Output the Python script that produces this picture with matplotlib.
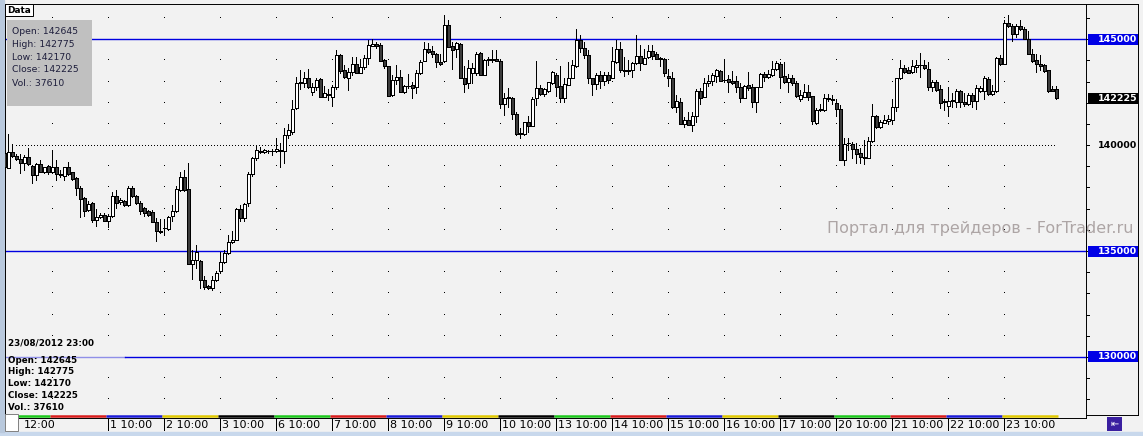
import matplotlib
matplotlib.use("Agg")
import matplotlib.pyplot as plt
from matplotlib.patches import Rectangle
from matplotlib.transforms import blended_transform_factory

plt.rcParams['font.family'] = ['DejaVu Sans']

# ---- data (hourly bars, 30/07 .. 23/08/2012) ----
opens = [139620, 138915, 139695, 139510, 139335, 139180, 139430, 139025, 138600, 139115,
         138725, 139025, 138725, 138960, 138645, 138520, 138960, 138710, 138440, 137970,
         137500, 136920, 137265, 136450, 136605, 136700, 136405, 136640, 137610, 137295,
         137375, 137155, 137985, 137610, 137265, 137045, 136875, 136860, 136370, 135965,
         136075, 136055, 136640, 136875, 137895, 138490, 137940, 134395, 134565, 134535,
         133625, 133345, 133265, 133625, 134050, 134490, 134910, 135430, 135540, 136985,
         136545, 137265, 138645, 139385, 139745, 139695, 139745, 139745, 139715, 139775,
         139745, 140465, 140640, 141735, 142915, 142945, 143195, 142520, 142755, 143115,
         142285, 142395, 142255, 142755, 144245, 143540, 143195, 143460, 143855, 143430,
         143700, 144135, 144700, 144795, 144720, 144010, 143760, 142365, 143100, 143225,
         142490, 142790, 142820, 142725, 143430, 143980, 144560, 144435, 144295, 143950,
         143980, 145660, 144670, 144530, 144795, 143195, 142915, 143385, 143385, 144370,
         143335, 144010, 144045, 144090, 143965, 141925, 142255, 142210, 141455, 140590,
         140530, 141110, 140920, 142210, 142680, 142410, 142570, 142915, 143335, 142790,
         142240, 142850, 143180, 143730, 144985, 144610, 144280, 143150, 142880, 143305,
         143040, 143305, 143180, 143935, 144560, 143570, 143510, 143540, 143885, 144200,
         143855, 144170, 144435, 144295, 144100, 144090, 143260, 143195, 141815, 142020,
         140985, 141190, 140955, 141390, 142555, 142285, 142915, 143025, 143275, 143495,
         143080, 143115, 143025, 143025, 142755, 142240, 142835, 142725, 142050, 142755,
         143350, 143225, 143320, 143590, 143825, 143260, 142990, 143150, 142915, 142160,
         142285, 142520, 142320, 141030, 141660, 141660, 142210, 142170, 142005, 141690,
         139275, 140100, 140040, 139805, 139650, 139460, 139415, 140215, 141375, 140845,
         141060, 141140, 141190, 141815, 143150, 143665, 143540, 143460, 143700, 143780,
         143775, 143620, 142755, 142990, 142645, 142080, 141860, 142110, 142050, 142570,
         142020, 141925, 142365, 142100, 142570, 142570, 143115, 142395, 142555, 144135,
         143855, 145785, 145630, 145270, 145610, 145470, 145000, 144295, 144010, 143855,
         143775, 143540, 142650, 142645]
highs = [139775, 140530, 140060, 139570, 139570, 139540, 139855, 139040, 139180, 139275,
         138990, 139070, 139775, 139305, 138835, 138990, 139225, 138755, 138490, 138050,
         137545, 137345, 137295, 136985, 136795, 136795, 136765, 137770, 137895, 137485,
         137420, 138080, 138050, 137660, 137360, 137075, 136920, 136920, 136545, 136515,
         136515, 136640, 137170, 138050, 138755, 138805, 139150, 135070, 135305, 134565,
         133815, 133375, 133815, 134050, 134945, 135070, 135775, 135930, 137015, 137185,
         137265, 138710, 139430, 140010, 139935, 139805, 139775, 139805, 140325, 140120,
         140795, 141000, 142130, 143225, 143570, 143445, 143620, 142915, 143150, 143150,
         142790, 142630, 142820, 144480, 144325, 143775, 143665, 144170, 144170, 144090,
         144245, 144955, 145030, 144860, 144825, 144075, 143760, 143305, 143775, 143540,
         142835, 143350, 142990, 143540, 144010, 144875, 144845, 144670, 144355, 144325,
         146130, 145925, 144875, 144875, 144825, 143730, 144010, 143885, 144405, 144405,
         144090, 144170, 144480, 144480, 144010, 142445, 142680, 142255, 141580, 140795,
         141110, 141390, 142255, 143980, 142835, 142680, 142990, 143495, 143385, 143730,
         143150, 143935, 144045, 145500, 145190, 144875, 144480, 143180, 143385, 143495,
         143460, 143460, 144640, 144985, 144875, 144170, 144010, 143935, 145190, 144720,
         144560, 144720, 144720, 144390, 144170, 144120, 143620, 143460, 142365, 142210,
         141315, 141550, 141550, 142630, 142680, 143150, 143305, 143385, 143605, 143540,
         144010, 143335, 143495, 143260, 142915, 142835, 143460, 142880, 142755, 143415,
         143460, 143540, 143965, 143980, 143935, 143935, 143350, 143305, 143025, 142600,
         142880, 142835, 142320, 141735, 141925, 142395, 142395, 142365, 142160, 141895,
         140325, 140325, 140170, 140090, 139885, 140245, 140405, 141925, 141425, 141190,
         141425, 141425, 142160, 143195, 144045, 143775, 143700, 144045, 144045, 144355,
         144045, 143935, 143070, 143070, 142835, 142160, 142755, 142445, 142630, 142600,
         142445, 142445, 142475, 142835, 142790, 143260, 143225, 142835, 144170, 144245,
         145895, 146130, 145740, 145740, 145895, 145580, 145390, 144560, 144295, 144245,
         143855, 143570, 142790, 142775]
lows = [138915, 138900, 139460, 139305, 138680, 138835, 139080, 138205, 138365, 138710,
        138680, 138645, 138680, 138365, 138490, 138365, 138600, 138365, 137660, 136605,
        136640, 136875, 136355, 136165, 136560, 136400, 136135, 136605, 137030, 137235,
        137140, 137140, 137545, 137235, 136750, 136640, 136670, 136355, 135460, 135855,
        135775, 136010, 136435, 136845, 137815, 137815, 134390, 133655, 134175, 133265,
        133185, 133220, 133155, 133580, 133970, 134440, 134880, 135385, 135510, 136405,
        136405, 137110, 138520, 139305, 139620, 139650, 139650, 139540, 139680, 138945,
        139180, 140355, 140530, 141705, 142645, 142755, 142680, 142365, 142600, 142255,
        142255, 142130, 141860, 142630, 143385, 143150, 142600, 143305, 143430, 143385,
        143620, 143855, 144670, 144605, 143980, 143665, 142335, 142320, 142880, 142490,
        142440, 142680, 142240, 142475, 143350, 143980, 144355, 144170, 143700, 143775,
        143950, 144640, 143620, 144170, 143195, 142520, 142710, 142945, 143335, 143305,
        143305, 143775, 143935, 143980, 141770, 141425, 141815, 141235, 140480, 140355,
        140480, 140640, 140920, 141895, 142365, 142320, 142520, 142880, 142320, 142050,
        142050, 142835, 143150, 143700, 144405, 144120, 142945, 142365, 142645, 142680,
        142835, 142945, 143150, 143900, 143460, 143275, 143350, 143225, 143825, 143540,
        143825, 144135, 144090, 144060, 143745, 143275, 142790, 141770, 141580, 140985,
        140875, 140955, 140685, 141075, 141940, 142255, 142805, 142835, 142990, 143040,
        142960, 142520, 142880, 142520, 142050, 142210, 142600, 141815, 141580, 142725,
        143040, 143195, 143290, 143540, 142710, 142945, 142520, 142835, 142285, 142100,
        142255, 142130, 141000, 141000, 141630, 141630, 142100, 141940, 141390, 139275,
        139040, 139775, 139385, 139150, 139150, 139115, 139385, 140170, 140795, 140795,
        141030, 141000, 140985, 141610, 143115, 143385, 143385, 143385, 143460, 143225,
        143620, 142600, 142555, 142570, 141735, 141660, 141390, 141815, 141815, 141785,
        141845, 141895, 141815, 141690, 142520, 142160, 142365, 142365, 142520, 143775,
        143825, 145580, 144920, 145110, 145455, 145000, 144295, 143935, 143460, 143540,
        143460, 142490, 142550, 142170]
closes = [138990, 139695, 139510, 139335, 139180, 139430, 139100, 138600, 139115, 138725,
          138960, 138725, 138960, 138630, 138600, 138960, 138645, 138410, 137970, 137455,
          136875, 137235, 136450, 136605, 136700, 136405, 136670, 137610, 137265, 137420,
          137155, 137985, 137580, 137265, 136875, 136795, 136715, 136370, 135930, 135915,
          136105, 136605, 136905, 137940, 138490, 137895, 134395, 134565, 134960, 133625,
          133310, 133265, 133625, 133940, 134490, 134910, 135430, 135540, 136985, 136560,
          137220, 138645, 139385, 139775, 139695, 139760, 139715, 139715, 139805, 139730,
          140465, 140715, 141690, 142915, 142960, 143195, 142725, 142755, 143070, 142285,
          142440, 142350, 142755, 144245, 143510, 143225, 143460, 143855, 143430, 143700,
          144135, 144720, 144795, 144700, 143980, 143745, 142335, 143100, 143225, 142490,
          142805, 142775, 142710, 143430, 143935, 144560, 144405, 144325, 143935, 143810,
          145660, 144640, 144515, 144845, 143195, 142880, 143665, 143665, 144325, 143335,
          144010, 144090, 144075, 143980, 141925, 142240, 142210, 141455, 140530, 140530,
          141075, 140920, 142160, 142680, 142410, 142630, 142960, 143445, 142755, 142240,
          142880, 143150, 143775, 144985, 144610, 144280, 143180, 142880, 143305, 143040,
          143305, 143070, 143965, 144560, 143540, 143510, 143570, 143900, 144200, 143885,
          144135, 144435, 144215, 144090, 144080, 143385, 143195, 141815, 142080, 140985,
          141190, 140955, 141390, 142555, 142210, 142915, 143025, 143305, 143540, 143040,
          143060, 142960, 142945, 142755, 142240, 142790, 142710, 142050, 142725, 143350,
          143225, 143350, 143620, 143900, 143225, 142990, 143150, 142915, 142335, 142365,
          142520, 142285, 141155, 141660, 141690, 142210, 142160, 142150, 141690, 139275,
          140040, 140080, 139805, 139585, 139430, 139415, 140200, 141375, 140845, 141095,
          141190, 141220, 141815, 143150, 143665, 143460, 143430, 143730, 143775, 143770,
          143665, 142755, 142960, 142600, 141970, 142050, 142100, 142090, 142570, 142020,
          141925, 142365, 142100, 142680, 142710, 143150, 142395, 142555, 144135, 143855,
          145785, 145630, 145270, 145630, 145470, 145030, 144325, 143980, 143855, 143745,
          143510, 142570, 142575, 142225]
last_volume = 37610
stamp = '23/08/2012 23:00'

day_numbers = [1, 2, 3, 6, 7, 8, 9, 10, 13, 14, 15, 16, 17, 20, 21, 22, 23]
first_label = '12:00'
bars_per_day = 14
first_day_bar = 12          # first full session starts at bar 12 (10:00)
first_partial_bar = 4       # partial first session starts here

level_lines = [145000, 135000, 130000]
dotted_level = 140000
grid_prices = list(range(128000, 147000, 1000))
axis_labels = [145000, 140000, 135000, 130000]
watermark = 'Портал для трейдеров - ForTrader.ru'
day_colors = ['#1CC81C', '#D81C1C', '#1C1CD8', '#E0C800', '#000000']

# ---- pixel layout helpers ----
W, H = 1143, 436
BG = '#F2F2F2'
BLUE_LINE = '#0000E0'
BLUE_BOX = '#0000E6'
LW = 0.7              # ~1 px
BAR_PX = 4.0
Y145 = 39.3           # pixel row of the 145000 line
PX_PER_PT = 0.02117   # pixels per price point


def fx(px):
    return px / W


def fy(py):
    return 1 - py / H


def price_at(py):
    return 145000 - (py - Y145) / PX_PER_PT


fig = plt.figure(figsize=(W / 100, H / 100), dpi=100, facecolor=BG)

# outer window strips
fig.add_artist(Rectangle((0, 0), 1, fy(432), transform=fig.transFigure,
                         color='#C8D8EC', zorder=0))
fig.add_artist(Rectangle((0, fy(432)), fx(4), 1 - fy(432), transform=fig.transFigure,
                         color='#B9C9DD', zorder=0))

# ---- main price chart ----
L_PX, R_PX, T_PX, B_PX = 5, 1086, 4, 418
ax = fig.add_axes([fx(L_PX), fy(B_PX), (R_PX - L_PX) / W, (B_PX - T_PX) / H])
ax.set_facecolor(BG)
x0 = (L_PX - 4.33) / BAR_PX
ax.set_xlim(x0, x0 + (R_PX - L_PX) / BAR_PX)
ax.set_ylim(price_at(B_PX), price_at(T_PX))
ax.set_xticks([])
ax.set_yticks([])
for s in ax.spines.values():
    s.set_linewidth(LW)
    s.set_color('black')

n = len(opens)
idx = list(range(n))

# grid dots at session starts / every 1000 points
dot_x, dot_y = [], []
for k in range(first_day_bar, n, bars_per_day):
    for p in grid_prices:
        if p in level_lines or p == dotted_level:
            continue
        dot_x.append(k)
        dot_y.append(p)
ax.plot(dot_x, dot_y, ',', color='black', zorder=1)

# level lines
for p in level_lines:
    if p == 130000:
        split = (125 - L_PX) / (R_PX - L_PX)
        ax.axhline(p, xmax=split, color='#9090E8', lw=1.0, zorder=1)
        ax.axhline(p, xmin=split, color=BLUE_LINE, lw=1.0, zorder=1)
    else:
        ax.axhline(p, color=BLUE_LINE, lw=1.0, zorder=1)
ax.hlines(dotted_level, 3, n - 1, colors='black', lw=LW,
          linestyles=(0, (1, 3)), antialiased=False, zorder=1)

# candles
ax.vlines(idx, lows, highs, colors='black', lw=LW, antialiased=False, zorder=2)
for k in idx:
    o, c = opens[k], closes[k]
    face = 'white' if c >= o else '#3C3C3C'
    ax.add_patch(Rectangle((k - 0.3, min(o, c)), 0.6, abs(c - o), facecolor=face,
                           edgecolor='black', lw=LW, antialiased=False, zorder=3))

# session colour strip along the bottom edge
xt = ax.get_xaxis_transform()
ax.hlines(0.0045, first_partial_bar - 0.5, first_day_bar - 0.5, colors=day_colors[0],
          lw=1.8, transform=xt, zorder=4)
j = 0
for start in range(first_day_bar, n, bars_per_day):
    ax.hlines(0.0045, start - 0.5, start - 0.5 + bars_per_day,
              colors=day_colors[(j + 1) % len(day_colors)], lw=1.8, transform=xt, zorder=4)
    j += 1

# ---- time axis strip ----
ax_t = fig.add_axes([fx(L_PX), fy(431), (R_PX - L_PX) / W, (431 - B_PX) / H], sharex=ax)
ax_t.set_facecolor(BG)
ax_t.set_ylim(0, 1)
ax_t.axis('off')
tick_bars = [first_day_bar + bars_per_day * (i + 1) for i in range(len(day_numbers))]
ax_t.vlines(tick_bars, 0, 1, colors='black', lw=LW, antialiased=False)
for k, d in zip(tick_bars, day_numbers):
    ax_t.text(k + 0.45, 0.45, f'{d} 10:00', fontsize=8, va='center', ha='left')
ax_t.text(first_partial_bar + 0.75, 0.45, first_label, fontsize=8, va='center', ha='left')

# ---- price axis panel ----
ax_p = fig.add_axes([fx(R_PX), fy(415), (1138 - R_PX) / W, (415 - T_PX) / H])
ax_p.set_facecolor(BG)
ax_p.set_xlim(0, 1)
ax_p.set_ylim(price_at(415), price_at(T_PX))
ax_p.set_xticks([])
ax_p.set_yticks([])
for s in ax_p.spines.values():
    s.set_linewidth(LW)
    s.set_color('black')
bt = blended_transform_factory(ax_p.transAxes, ax_p.transData)
ax_p.hlines(grid_prices, 0, 0.05, colors='black', lw=LW, transform=bt, antialiased=False)
half = 5.5 / PX_PER_PT
for p in axis_labels + [closes[-1]]:
    if p in level_lines or p == closes[-1]:
        box = BLUE_BOX if p in level_lines else 'black'
        ax_p.add_patch(Rectangle((0.03, p - half), 0.97, 2 * half, transform=bt,
                                 facecolor=box, edgecolor='none', zorder=2))
        col = 'white'
    else:
        col = 'black'
    ax_p.text(0.985, p, f'{p}', transform=bt, ha='right', va='center',
              color=col, fontsize=6.8, fontweight='bold', zorder=3)

# ---- overlays ----
# data window box
fig.add_artist(Rectangle((fx(7), fy(106)), 85 / W, 86 / H, transform=fig.transFigure,
                         facecolor='#C0C0C0', edgecolor='none', zorder=5))
info = [f'Open: {opens[-1]}', f'High: {highs[-1]}', f'Low: {lows[-1]}',
        f'Close: {closes[-1]}', f'Vol.: {last_volume}']
for i, line in enumerate(info):
    fig.text(fx(11.5), fy(31 + 13 * i), line, fontsize=6.7, color='#1E1E3C',
             va='center', ha='left', zorder=6)

# "Data" tab
fig.add_artist(Rectangle((fx(5), fy(16)), 28 / W, 12 / H, transform=fig.transFigure,
                         facecolor='white', edgecolor='black', lw=LW, zorder=5))
fig.text(fx(7), fy(10.5), 'Data', fontsize=6.4, fontweight='bold', va='center',
         ha='left', zorder=6)

# last bar readout, bottom left
fig.text(fx(8), fy(343.5), stamp, fontsize=6.3, fontweight='bold', va='center',
         ha='left', zorder=6)
for i, line in enumerate(info):
    fig.text(fx(8), fy(360 + 11.8 * i), line, fontsize=6.3, fontweight='bold',
             va='center', ha='left', zorder=6)

# corner box and scroll icon
fig.add_artist(Rectangle((fx(5), fy(431)), 13 / W, 17 / H, transform=fig.transFigure,
                         facecolor='white', edgecolor='#808080', lw=LW, zorder=5))
fig.add_artist(Rectangle((fx(1107), fy(431)), 15 / W, 14 / H, transform=fig.transFigure,
                         facecolor='#3A1FA0', edgecolor='none', zorder=5))
fig.text(fx(1114.5), fy(424), '⇤', fontsize=7, color='white', ha='center',
         va='center', zorder=6)

# watermark
fig.text(fx(827), fy(228), watermark, fontsize=11.5, color='#ADA5A5',
         va='center', ha='left', zorder=6)

fig.savefig('out.png', dpi=100, facecolor=BG)
